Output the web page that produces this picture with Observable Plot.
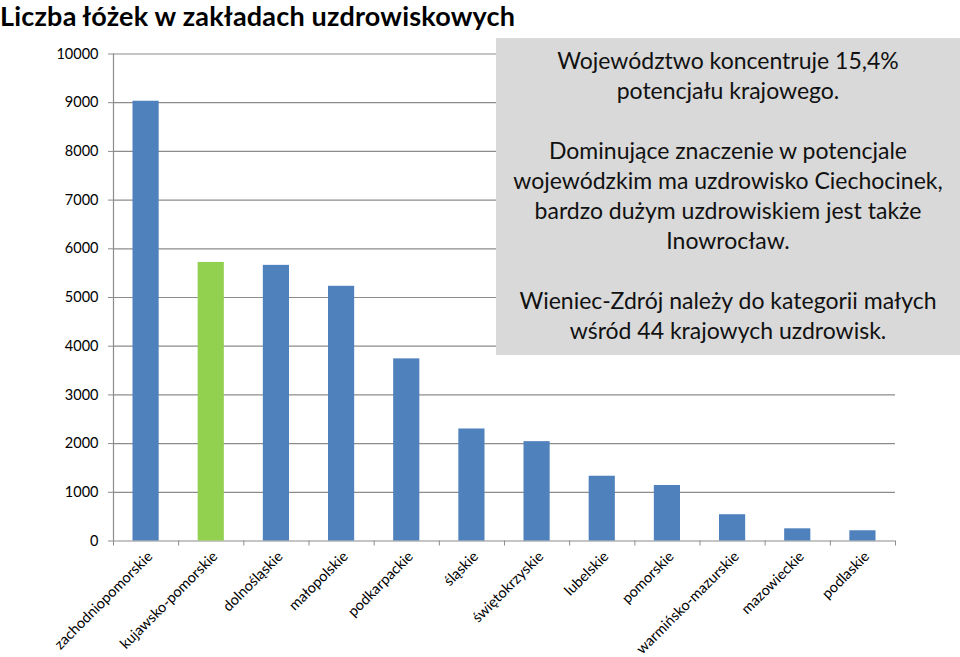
<!DOCTYPE html>
<html>
<head>
<meta charset="utf-8">
<script src="https://cdn.jsdelivr.net/npm/d3@7"></script>
<script src="https://cdn.jsdelivr.net/npm/@observablehq/plot@0.6"></script>
<style>
  html, body { margin: 0; padding: 0; background: #fff; }
  body { width: 960px; height: 657px; overflow: hidden; font-family: Lato, "Open Sans", sans-serif; }
  #title { height: 28px; padding-top: 2px; line-height: 28px; font-weight: bold; font-size: 27px; color: #000; white-space: nowrap; letter-spacing: 0.2px; }
  #wrap { position: relative; width: 960px; height: 627px; }
  #note { position: absolute; left: 496px; top: 8px; width: 464px; height: 317px; background: #D9D9D9;
          font-size: 23px; line-height: 30px; color: #111; text-align: center; box-sizing: border-box; padding-top: 7px; }
  #note p { margin: 0 0 30px 0; }
</style>
</head>
<body>
<div id="title">Liczba łóżek w zakładach uzdrowiskowych</div>
<div id="wrap"></div>
<script>
const categories = ["zachodniopomorskie", "kujawsko-pomorskie", "dolnośląskie", "małopolskie", "podkarpackie", "śląskie", "świętokrzyskie", "lubelskie", "pomorskie", "warmińsko-mazurskie", "mazowieckie", "podlaskie"];
const beds = [9030, 5720, 5660, 5230, 3740, 2300, 2040, 1330, 1140, 540, 250, 210];
const highlight = "kujawsko-pomorskie";
const yTicks = [0, 1000, 2000, 3000, 4000, 5000, 6000, 7000, 8000, 9000, 10000];
const noteParagraphs = [
  ["Województwo koncentruje 15,4%", "potencjału krajowego."],
  ["Dominujące znaczenie w potencjale", "wojewódzkim ma uzdrowisko Ciechocinek,", "bardzo dużym uzdrowiskiem jest także", "Inowrocław."],
  ["Wieniec-Zdrój należy do kategorii małych", "wśród 44 krajowych uzdrowisk."]
];

const data = categories.map((c, i) => ({name: c, i, value: beds[i]}));
const boundaries = d3.range(categories.length + 1);
const gray = "#8c8c8c";

const chart = Plot.plot({
  width: 960,
  height: 627,
  marginLeft: 113,
  marginRight: 65,
  marginTop: 23.5,
  marginBottom: 116.5,
  style: {fontFamily: "Lato, 'Open Sans', sans-serif", fontSize: "14px", color: "#000", background: "#fff"},
  x: {type: "linear", domain: [0, categories.length], axis: null, label: null},
  y: {domain: [0, 10000], axis: null, label: null},
  marks: [
    Plot.ruleY(yTicks, {stroke: gray, strokeWidth: 1.2}),
    Plot.ruleX([0], {stroke: gray, strokeWidth: 1.2}),
    Plot.rectY(data, {x1: "i", x2: d => d.i + 1, y: "value", insetLeft: 19.5, insetRight: 19.5,
      fill: d => d.name === highlight ? "#92D050" : "#4F81BD"}),
    Plot.axisY({ticks: yTicks, tickSize: 5, tickPadding: 10, tickFormat: d => String(d), stroke: gray, fontSize: 14.5, fill: "#000", label: null}),
    Plot.axisX({ticks: boundaries, tickSize: 5, tickFormat: () => "", stroke: gray, label: null}),
    Plot.text(data, {x: d => d.i + 0.5, y: 0, text: "name", rotate: -45, textAnchor: "end", lineAnchor: "middle",
      dx: 4, dy: 13, fontSize: 14.5, fill: "#000"})
  ]
});
document.getElementById("wrap").appendChild(chart);

const note = document.createElement("div");
note.id = "note";
note.innerHTML = noteParagraphs.map(p => "<p>" + p.join("<br>") + "</p>").join("");
document.getElementById("wrap").appendChild(note);
</script>
</body>
</html>
